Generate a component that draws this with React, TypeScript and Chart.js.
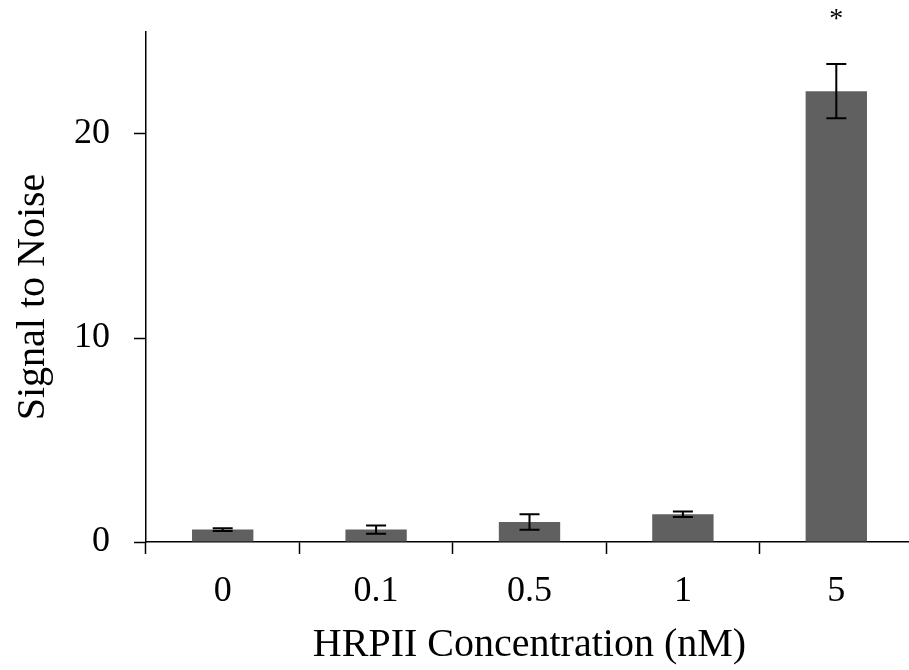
import React, { useEffect, useRef } from "react";
import { Chart, registerables } from "chart.js";

Chart.register(...registerables);

const categories = ["0", "0.1", "0.5", "1", "5"];
const signalToNoise = [0.61, 0.61, 0.98, 1.36, 22.1];
const errors = [0.07, 0.2, 0.38, 0.13, 1.33];
const significance = ["", "", "", "", "*"];
const yTicks = [0, 10, 20];
const yTitle = "Signal to Noise";
const xTitle = "HRPII Concentration (nM)";

const FONT = "'Liberation Serif', 'Times New Roman', serif";

const errorBarPlugin = {
  id: "errorBars",
  afterDatasetsDraw(chart: any) {
    const { ctx, scales, chartArea } = chart;
    const xs = scales.x;
    const ys = scales.y;
    ctx.save();
    ctx.strokeStyle = "#000";
    ctx.lineWidth = 2;
    signalToNoise.forEach((v, i) => {
      const x = xs.getPixelForValue(i);
      const yTop = ys.getPixelForValue(v + errors[i]);
      const yBot = ys.getPixelForValue(v - errors[i]);
      ctx.beginPath();
      ctx.moveTo(x, yTop);
      ctx.lineTo(x, yBot);
      ctx.moveTo(x - 10, yTop);
      ctx.lineTo(x + 10, yTop);
      ctx.moveTo(x - 10, yBot);
      ctx.lineTo(x + 10, yBot);
      ctx.stroke();
      if (significance[i]) {
        ctx.fillStyle = "#000";
        ctx.font = `28px ${FONT}`;
        ctx.textAlign = "center";
        ctx.textBaseline = "alphabetic";
        ctx.fillText(significance[i], x, yTop - 37);
      }
    });
    // y-axis title, slightly below the chart-area centre as in the reference
    ctx.fillStyle = "#000";
    ctx.font = `40px ${FONT}`;
    ctx.textAlign = "center";
    ctx.textBaseline = "middle";
    ctx.translate(33, (chartArea.top + chartArea.bottom) / 2 + 10);
    ctx.rotate(-Math.PI / 2);
    ctx.fillText(yTitle, 0, 0);
    ctx.restore();
  },
};

export default function App() {
  const ref = useRef<HTMLCanvasElement>(null);
  useEffect(() => {
    if (!ref.current) return;
    const chart = new Chart(ref.current, {
      type: "bar",
      data: {
        labels: categories,
        datasets: [
          {
            data: signalToNoise,
            backgroundColor: "#606060",
            borderWidth: 0,
            barPercentage: 0.4,
            categoryPercentage: 1,
          },
        ],
      },
      options: {
        responsive: false,
        animation: false,
        layout: { padding: { top: 32, left: 0, right: 0, bottom: 0 } },
        plugins: { legend: { display: false }, tooltip: { enabled: false } },
        scales: {
          x: {
            grid: {
              offset: true,
              drawOnChartArea: false,
              tickLength: 12,
              color: "#000",
              tickWidth: 1.5,
            },
            border: { display: true, color: "#000", width: 1.5 },
            ticks: { color: "#000", font: { family: FONT, size: 36 }, padding: 16 },
            title: {
              display: true,
              text: xTitle,
              color: "#000",
              font: { family: FONT, size: 40 },
              padding: { top: 0, bottom: 1 },
            },
            afterFit: (s: any) => {
              s.height = 128;
              s.paddingLeft = 0;
              s.paddingRight = 0;
            },
          },
          y: {
            min: 0,
            max: 25,
            afterBuildTicks: (s: any) => {
              s.ticks = yTicks.map((v) => ({ value: v }));
            },
            grid: {
              drawOnChartArea: false,
              tickLength: 12,
              color: "#000",
              tickWidth: 1.5,
            },
            border: { display: true, color: "#000", width: 1.5 },
            ticks: { color: "#000", font: { family: FONT, size: 36 }, padding: 24 },
            title: { display: false },
            afterFit: (s: any) => {
              s.width = 146;
              s.paddingTop = 0;
              s.paddingBottom = 0;
            },
          },
        },
      },
      plugins: [errorBarPlugin],
    });
    return () => chart.destroy();
  }, []);
  return (
    <div style={{ position: "absolute", left: 0, top: 0, width: 909, height: 670, overflow: "hidden", background: "#fff" }}>
      <canvas ref={ref} width={913} height={670} style={{ display: "block" }} />
    </div>
  );
}
